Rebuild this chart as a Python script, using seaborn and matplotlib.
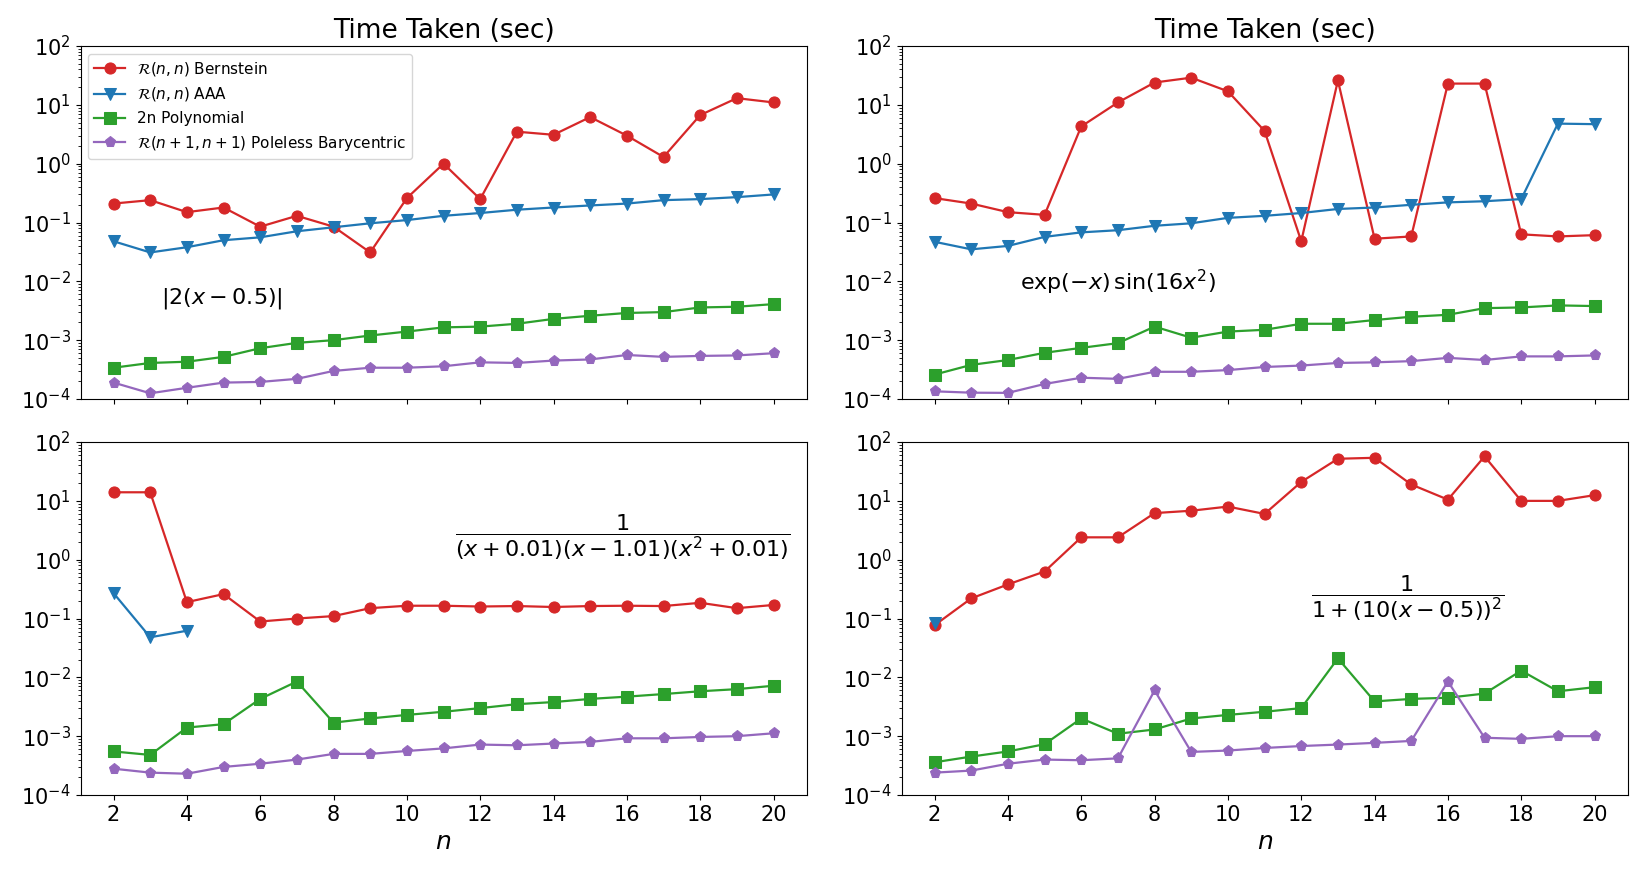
import numpy as np
import matplotlib
matplotlib.use("Agg")
import matplotlib.pyplot as plt
import seaborn as sns

n = list(range(2, 21))

# |2(x-0.5)|
abs_bern = [0.21, 0.24, 0.15, 0.18, 0.085, 0.13, 0.085, 0.031, 0.26, 1.0, 0.25, 3.5, 3.1, 6.2, 3.0, 1.3, 6.7, 13, 11]
abs_aaa = [0.048, 0.031, 0.038, 0.050, 0.056, 0.071, 0.083, 0.097, 0.11, 0.13, 0.145, 0.165, 0.18, 0.195, 0.21, 0.24, 0.25, 0.27, 0.30]
abs_poly = [0.00034, 0.00041, 0.00043, 0.00052, 0.00073, 0.0009, 0.001, 0.0012, 0.0014, 0.00165, 0.0017, 0.0019, 0.0023, 0.0026, 0.0029, 0.003, 0.0036, 0.0037, 0.0041]
abs_pole = [0.00019, 0.000125, 0.000155, 0.00019, 0.000195, 0.00022, 0.0003, 0.00034, 0.00034, 0.00036, 0.00042, 0.00041, 0.00045, 0.00047, 0.00056, 0.00052, 0.00054, 0.00055, 0.0006]

# exp(-x) sin(16x^2)
exp_bern = [0.26, 0.21, 0.15, 0.135, 4.3, 11, 24, 29, 17, 3.6, 0.048, 26, 0.053, 0.058, 23, 23, 0.063, 0.058, 0.061]
exp_aaa = [0.047, 0.035, 0.04, 0.057, 0.068, 0.074, 0.088, 0.097, 0.12, 0.13, 0.145, 0.17, 0.18, 0.20, 0.22, 0.23, 0.25, 4.8, 4.7]
exp_poly = [0.00026, 0.00038, 0.00046, 0.00061, 0.00074, 0.00089, 0.0017, 0.0011, 0.0014, 0.0015, 0.0019, 0.0019, 0.0022, 0.0025, 0.0027, 0.0035, 0.0036, 0.0039, 0.0038]
exp_pole = [0.000135, 0.000128, 0.000127, 0.00018, 0.00023, 0.00022, 0.00029, 0.00029, 0.00031, 0.00035, 0.00037, 0.00041, 0.00042, 0.00044, 0.0005, 0.00046, 0.00053, 0.00053, 0.00055]

# 1/((x+0.01)(x-1.01)(x^2+0.01))
pole_bern = [14, 14, 0.19, 0.26, 0.089, 0.10, 0.11, 0.15, 0.165, 0.165, 0.16, 0.163, 0.157, 0.163, 0.165, 0.163, 0.185, 0.15, 0.17]
pole_aaa = [0.27, 0.048, 0.062] + [np.nan] * 16
pole_poly = [0.00055, 0.00048, 0.0014, 0.0016, 0.0043, 0.0085, 0.0017, 0.0020, 0.0023, 0.0026, 0.003, 0.0035, 0.0038, 0.0043, 0.0047, 0.0052, 0.0058, 0.0063, 0.0072]
pole_pole = [0.00028, 0.00024, 0.00023, 0.0003, 0.00034, 0.0004, 0.0005, 0.0005, 0.00056, 0.00062, 0.00072, 0.0007, 0.00075, 0.0008, 0.00092, 0.00092, 0.00097, 0.001, 0.00112]

# 1/(1+(10(x-0.5))^2)
runge_bern = [0.077, 0.22, 0.38, 0.63, 2.4, 2.4, 6.2, 6.8, 8.0, 6.0, 21, 52, 54, 19, 10.5, 57, 10, 10, 12.5]
runge_aaa = [0.085] + [np.nan] * 18
runge_poly = [0.00036, 0.00045, 0.00055, 0.00073, 0.002, 0.0011, 0.0013, 0.002, 0.0023, 0.0026, 0.003, 0.021, 0.0039, 0.0043, 0.0045, 0.0053, 0.013, 0.0058, 0.0068]
runge_pole = [0.00024, 0.00026, 0.00034, 0.0004, 0.00039, 0.00042, 0.006, 0.00054, 0.00057, 0.00063, 0.00068, 0.00072, 0.00077, 0.00083, 0.0085, 0.00094, 0.0009, 0.001, 0.001]

labels = [r'$\mathcal{R}(n,n)$ Bernstein', r'$\mathcal{R}(n,n)$ AAA',
          '2n Polynomial', r'$\mathcal{R}(n+1,n+1)$ Poleless Barycentric']
colors = ['tab:red', 'tab:blue', 'tab:green', 'tab:purple']
markers = ['o', 'v', 's', 'p']

panels = [
    ([abs_bern, abs_aaa, abs_poly, abs_pole], r'$|2(x-0.5)|$', (4.95, 0.0051)),
    ([exp_bern, exp_aaa, exp_poly, exp_pole], r'$\exp(-x)\,\sin(16x^2)$', (7.0, 0.0095)),
    ([pole_bern, pole_aaa, pole_poly, pole_pole], r'$\dfrac{1}{(x+0.01)(x-1.01)(x^2+0.01)}$', (15.9, 2.4)),
    ([runge_bern, runge_aaa, runge_poly, runge_pole], r'$\dfrac{1}{1+(10(x-0.5))^2}$', (14.9, 0.22)),
]

fig, axes = plt.subplots(2, 2, figsize=(16.44, 8.77), dpi=100, sharex=True)
fig.subplots_adjust(left=0.049, right=0.99, top=0.9475, bottom=0.0935, wspace=0.131, hspace=0.122)

for ax, (series, txt, pos) in zip(axes.flat, panels):
    for vals, lab, c, m in zip(series, labels, colors, markers):
        sns.lineplot(x=n, y=vals, ax=ax, color=c, marker=m, markersize=8,
                     markeredgecolor=c, linewidth=1.6, label=lab, legend=False)
    ax.set_yscale('log')
    ax.set_ylim(1e-4, 1e2)
    ax.set_xticks(range(2, 21, 2))
    ax.tick_params(labelsize=15)
    ax.text(pos[0], pos[1], txt, fontsize=16, ha='center', va='center')

for ax in axes[0]:
    ax.set_title('Time Taken (sec)', fontsize=19)
for ax in axes[1]:
    ax.set_xlabel('$n$', fontsize=18)

axes[0, 0].legend(loc='upper left', fontsize=11)

plt.savefig('out.png', dpi=100)
